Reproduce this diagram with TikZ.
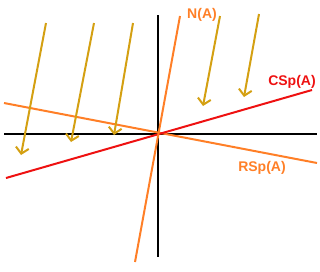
\documentclass[tikz,border=0pt]{standalone}
\usepackage{fontspec}
\setmainfont{Liberation Sans}
\usetikzlibrary{arrows.meta}
\definecolor{myorange}{HTML}{FF7F27}
\definecolor{myred}{HTML}{EE1111}
\definecolor{mygold}{HTML}{D4A012}
\begin{document}
\begin{tikzpicture}[x=1pt,y=-1pt,
  axis/.style={black,line width=2pt},
  sub/.style={line width=2pt},
  ray/.style={mygold,line width=2pt,-{Straight Barb[length=6pt,width=13pt,line width=2pt]}},
  lbl/.style={font=\fontsize{14}{16}\selectfont\bfseries,inner sep=0pt}]
\useasboundingbox (0,0) rectangle (320,271);
% axes
\coordinate (xl) at (4,134);
\coordinate (xr) at (317,134);
\coordinate (yt) at (158,15);
\coordinate (yb) at (158,257);
\draw[axis] (xl) -- (xr);
\draw[axis] (yt) -- (yb);
% subspaces
\coordinate (nb) at (135,262);
\coordinate (nt) at (180,16);
\coordinate (cl) at (6,178);
\coordinate (cr) at (312,90);
\coordinate (rl) at (4,103);
\coordinate (rr) at (317,163);
\draw[sub,myorange] (rl) -- (rr);
\draw[sub,myred] (cl) -- (cr);
\draw[sub,myorange] (nb) -- (nt);
% labels
\node[lbl,text=myorange] (nlab) at (202,15) {N(A)};
\node[lbl,text=myred] (clab) at (292,82) {CSp(A)};
\node[lbl,text=myorange] (rlab) at (262,168) {RSp(A)};
% rays
\coordinate (a1s) at (46,23);  \coordinate (a1e) at (21,155);
\coordinate (a2s) at (94,23);  \coordinate (a2e) at (71,142);
\coordinate (a3s) at (133,23); \coordinate (a3e) at (114,135);
\coordinate (a4s) at (220,16); \coordinate (a4e) at (203,106);
\coordinate (a5s) at (259,14); \coordinate (a5e) at (244,97);
\draw[ray] (a1s) -- (a1e);
\draw[ray] (a2s) -- (a2e);
\draw[ray] (a3s) -- (a3e);
\draw[ray] (a4s) -- (a4e);
\draw[ray] (a5s) -- (a5e);
\end{tikzpicture}
\end{document}
